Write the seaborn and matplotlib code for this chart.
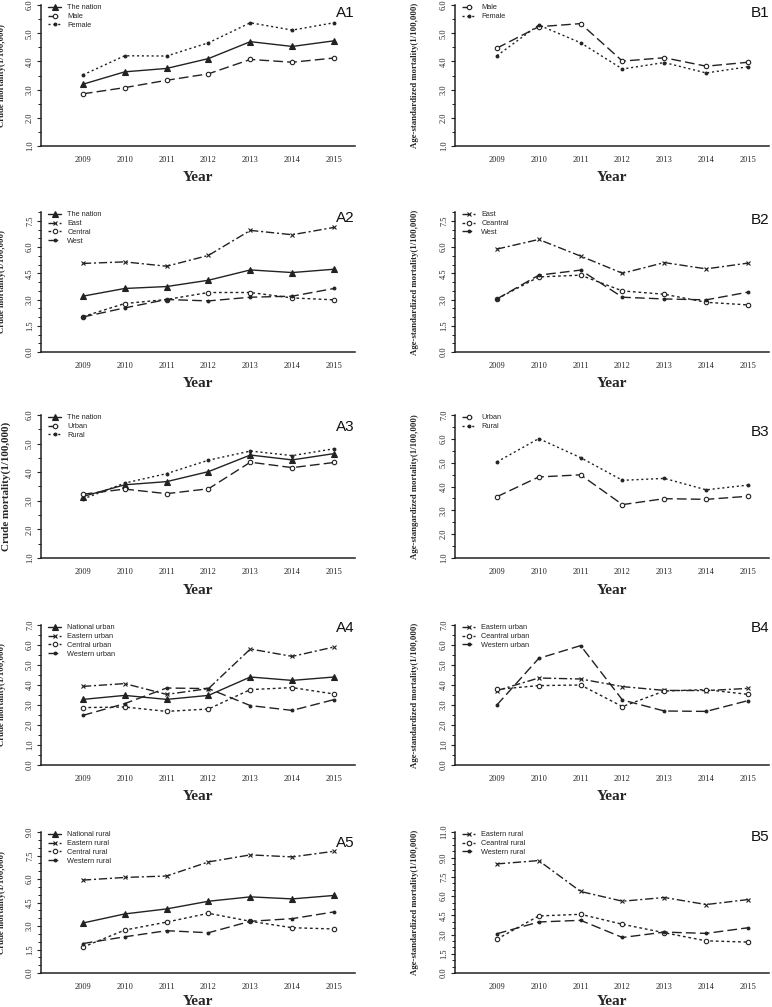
import matplotlib
matplotlib.use("Agg")
import matplotlib.pyplot as plt
from matplotlib.ticker import MultipleLocator, FormatStrFormatter, FixedLocator
import pandas as pd
import seaborn as sns

sns.set_style("ticks")
plt.rcParams["font.family"] = ["Liberation Serif", "DejaVu Serif"]

years = [2009, 2010, 2011, 2012, 2013, 2014, 2015]

# A1 / B1 - sex
a1_nation = [3.19, 3.63, 3.75, 4.10, 4.70, 4.53, 4.73]
a1_male = [2.85, 3.07, 3.33, 3.56, 4.07, 3.97, 4.12]
a1_female = [3.52, 4.20, 4.19, 4.66, 5.37, 5.11, 5.37]
b1_male = [4.47, 5.23, 5.34, 4.01, 4.13, 3.83, 3.97]
b1_female = [4.20, 5.29, 4.66, 3.73, 3.96, 3.59, 3.81]

# A2 / B2 - region
a2_nation = [3.19, 3.63, 3.74, 4.10, 4.69, 4.54, 4.73]
a2_east = [5.06, 5.15, 4.90, 5.52, 6.95, 6.70, 7.12]
a2_central = [2.02, 2.77, 3.00, 3.40, 3.40, 3.09, 2.98]
a2_west = [2.00, 2.52, 3.00, 2.92, 3.13, 3.19, 3.63]
b2_east = [5.88, 6.43, 5.48, 4.50, 5.11, 4.75, 5.08]
b2_central = [3.03, 4.29, 4.39, 3.49, 3.30, 2.84, 2.69]
b2_west = [3.03, 4.39, 4.68, 3.13, 3.03, 2.98, 3.42]

# A3 / B3 - urban / rural
a3_nation = [3.15, 3.56, 3.67, 4.02, 4.60, 4.43, 4.65]
a3_urban = [3.23, 3.41, 3.25, 3.42, 4.35, 4.16, 4.34]
a3_rural = [3.06, 3.62, 3.95, 4.42, 4.74, 4.58, 4.82]
b3_urban = [3.57, 4.40, 4.49, 3.24, 3.49, 3.46, 3.59]
b3_rural = [5.03, 6.01, 5.21, 4.26, 4.34, 3.86, 4.06]

# A4 / B4 - urban by region
a4_national = [3.28, 3.48, 3.28, 3.48, 4.40, 4.23, 4.40]
a4_eastern = [3.93, 4.07, 3.53, 3.82, 5.80, 5.43, 5.90]
a4_central = [2.87, 2.90, 2.68, 2.80, 3.77, 3.87, 3.55]
a4_western = [2.48, 3.07, 3.85, 3.82, 2.97, 2.73, 3.27]
b4_eastern = [3.72, 4.35, 4.30, 3.92, 3.73, 3.72, 3.83]
b4_central = [3.78, 3.97, 4.00, 2.92, 3.70, 3.77, 3.53]
b4_western = [3.00, 5.33, 5.97, 3.25, 2.70, 2.68, 3.22]

# A5 / B5 - rural by region
a5_national = [3.19, 3.77, 4.09, 4.58, 4.86, 4.73, 4.95]
a5_eastern = [5.93, 6.10, 6.19, 7.09, 7.54, 7.41, 7.77]
a5_central = [1.65, 2.74, 3.25, 3.81, 3.30, 2.89, 2.81]
a5_western = [1.88, 2.31, 2.70, 2.57, 3.30, 3.47, 3.90]
b5_eastern = [8.51, 8.77, 6.36, 5.60, 5.89, 5.34, 5.73]
b5_central = [2.64, 4.45, 4.58, 3.80, 3.14, 2.51, 2.41]
b5_western = [3.06, 3.98, 4.11, 2.77, 3.19, 3.09, 3.53]

ink = "#222222"
# series styles: (linestyle, marker, markersize, facecolor)
STYLES = {
    "nation": ("-", "^", 4, ink),
    "open_dash": ((0, (7, 3)), "o", 3.2, "white"),
    "dot_fill": ((0, (1.5, 2)), ".", 4, ink),
    "dashdot_x": ((0, (6, 2, 1.5, 2)), "x", 3.5, ink),
    "open_dot": ((0, (2, 2)), "o", 3.2, "white"),
    "dash_fill": ((0, (7, 3)), ".", 4, ink),
}

panels = [
    ("A1", "Crude mortality(1/100,000)", (1, 6), [1, 2, 3, 4, 5, 6], 0.94,
     [("The nation", a1_nation, "nation"), ("Male", a1_male, "open_dash"),
      ("Female", a1_female, "dot_fill")]),
    ("B1", "Age-standardized mortality(1/100,000)", (1, 6), [1, 2, 3, 4, 5, 6], 0.94,
     [("Male", b1_male, "open_dash"), ("Female", b1_female, "dot_fill")]),
    ("A2", "Crude mortality(1/100,000)", (0, 8), [0, 1.5, 3, 4.5, 6, 7.5], 0.955,
     [("The nation", a2_nation, "nation"), ("East", a2_east, "dashdot_x"),
      ("Central", a2_central, "open_dot"), ("West", a2_west, "dash_fill")]),
    ("B2", "Age-standardized mortality(1/100,000)", (0, 8), [0, 1.5, 3, 4.5, 6, 7.5], 0.94,
     [("East", b2_east, "dashdot_x"), ("Ceantral", b2_central, "open_dot"),
      ("West", b2_west, "dash_fill")]),
    ("A3", "Crude mortality(1/100,000)", (1, 6), [1, 2, 3, 4, 5, 6], 0.915,
     [("The nation", a3_nation, "nation"), ("Urban", a3_urban, "open_dash"),
      ("Rural", a3_rural, "dot_fill")]),
    ("B3", "Age-stangardized mortality(1/100,000)", (1, 7), [1, 2, 3, 4, 5, 6, 7], 0.88,
     [("Urban", b3_urban, "open_dash"), ("Rural", b3_rural, "dot_fill")]),
    ("A4", "Crude mortality(1/100,000)", (0, 7), [0, 1, 2, 3, 4, 5, 6, 7], 0.975,
     [("National urban", a4_national, "nation"), ("Eastern urban", a4_eastern, "dashdot_x"),
      ("Central urban", a4_central, "open_dot"), ("Western urban", a4_western, "dash_fill")]),
    ("B4", "Age-standardized mortality(1/100,000)", (0, 7), [0, 1, 2, 3, 4, 5, 6, 7], 0.975,
     [("Eastern urban", b4_eastern, "dashdot_x"), ("Ceantral urban", b4_central, "open_dot"),
      ("Western urban", b4_western, "dash_fill")]),
    ("A5", "Crude mortality(1/100,000)", (0, 9), [0, 1.5, 3, 4.5, 6, 7.5, 9], 0.92,
     [("National rural", a5_national, "nation"), ("Eastern rural", a5_eastern, "dashdot_x"),
      ("Central rural", a5_central, "open_dot"), ("Western rural", a5_western, "dash_fill")]),
    ("B5", "Age-standardized mortality(1/100,000)", (0, 11), [0, 1.5, 3, 4.5, 6, 7.5, 9, 11], 0.965,
     [("Eastern rural", b5_eastern, "dashdot_x"), ("Ceantral rural", b5_central, "open_dot"),
      ("Western rural", b5_western, "dash_fill")]),
]

fig = plt.figure(figsize=(7.72, 10.07), dpi=100)

lefts = [41 / 772, 455 / 772]
width = 314 / 772
row_px = [(5, 146), (212, 352), (415, 558), (625, 765), (832, 973)]

for i, (tag, ylab, ylim, yt, tag_y, series) in enumerate(panels):
    row, col = divmod(i, 2)
    top, bot = row_px[row]
    ax = fig.add_axes([lefts[col], 1 - bot / 1007, width, (bot - top) / 1007])

    for name, vals, sty in series:
        ls, mk, ms, fc = STYLES[sty]
        d = pd.DataFrame({"year": years, "value": vals})
        sns.lineplot(data=d, x="year", y="value", ax=ax, color=ink, linewidth=1.0,
                     linestyle=ls, marker=mk, markersize=ms, markerfacecolor=fc,
                     markeredgecolor=ink, markeredgewidth=0.8, label=name)

    ax.set_xlim(2008, 2015.5)
    ax.set_ylim(*ylim)
    ax.set_xticks(years)
    ax.set_xticklabels([str(y) for y in years], fontsize=6)
    ax.tick_params(axis="x", length=0, pad=7)
    ax.yaxis.set_major_locator(FixedLocator(yt))
    ax.yaxis.set_minor_locator(MultipleLocator(0.5))
    ax.yaxis.set_major_formatter(FormatStrFormatter("%.1f"))
    ax.tick_params(axis="y", which="major", length=3, width=0.8, labelsize=6, pad=2,
                   color=ink)
    ax.tick_params(axis="y", which="minor", length=2, width=0.7, color=ink)
    for lab in ax.get_yticklabels():
        lab.set_rotation(90)
        lab.set_va("center")

    sns.despine(ax=ax)
    for s in ("left", "bottom"):
        ax.spines[s].set_linewidth(1.1)
        ax.spines[s].set_color(ink)

    ax.set_xlabel("Year", fontsize=11, fontweight="bold")
    ax.xaxis.set_label_coords(0.5, -0.18 if row < 4 else -0.155)
    if tag == "A3":
        ax.set_ylabel(ylab, fontsize=8, fontweight="bold")
        ax.yaxis.set_label_coords(-0.095, 0.5)
    else:
        ax.set_ylabel(ylab, fontsize=6.3, fontweight="bold")
        ax.yaxis.set_label_coords(-0.11 if col == 0 else -0.115, 0.5)

    ax.legend(loc="upper left", bbox_to_anchor=(0.02, 1.01), frameon=False,
              prop={"family": "Liberation Sans", "size": 5.3}, handlelength=1.8,
              handletextpad=0.8, labelspacing=0.22, borderaxespad=0, borderpad=0.1)

    ax.text(1.0, tag_y, tag, transform=ax.transAxes, ha="right", va="center",
            fontsize=11, family="Liberation Sans", color="#111111")

fig.savefig("out.png", dpi=100)
